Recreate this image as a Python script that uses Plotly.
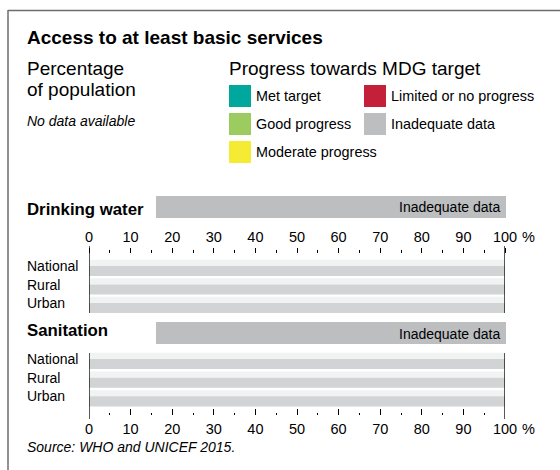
import plotly.graph_objects as go

W, H = 560, 470
FONT = "Liberation Sans, Arial, Helvetica, sans-serif"


def px(x):
    return x / W


def py(y):
    return 1 - y / H


# data
categories = ["National", "Rural", "Urban"]
track = [100, 100, 100]
water_no_data = [100, 100, 100]
sanitation_no_data = [100, 100, 100]
tick_values = [0, 10, 20, 30, 40, 50, 60, 70, 80, 90, 100]
tick_labels = ["0", "10", "20", "30", "40", "50", "60", "70", "80", "90", "100"]
minor_values = [5, 15, 25, 35, 45, 55, 65, 75, 85, 95]
progress_labels = ["Met target", "Good progress", "Moderate progress",
                   "Limited or no progress", "Inadequate data"]
water_status = "Inadequate data"
sanitation_status = "Inadequate data"

progress_colors = {
    "Met target": "#00a79d",
    "Good progress": "#9ccb5f",
    "Moderate progress": "#f6eb33",
    "Limited or no progress": "#c4203a",
    "Inadequate data": "#bcbec0",
}
TRACK_COLOR = "#f1f2f2"
NODATA_COLOR = "#d1d3d4"

fig = go.Figure()

for xa, ya, vals in [("x", "y", water_no_data), ("x2", "y2", sanitation_no_data)]:
    fig.add_trace(go.Bar(y=categories, x=track, orientation="h", width=0.33, offset=-0.44,
                         marker=dict(color=TRACK_COLOR, line=dict(width=0)),
                         xaxis=xa, yaxis=ya, hoverinfo="skip", showlegend=False))
    fig.add_trace(go.Bar(y=categories, x=vals, orientation="h", width=0.54, offset=-0.11,
                         marker=dict(color=NODATA_COLOR, line=dict(width=0)),
                         xaxis=xa, yaxis=ya, hoverinfo="skip", showlegend=False))

axis_common = dict(domain=[px(89), px(505)], range=[0, 100], anchor="free", automargin=False,
                   tickmode="array", tickvals=tick_values, ticktext=tick_labels,
                   tickwidth=1, tickcolor="black", showline=False, showgrid=False,
                   zeroline=False, fixedrange=True,
                   tickfont=dict(family=FONT, size=14.5, color="black"))

fig.update_layout(
    width=W, height=H,
    margin=dict(l=0, r=0, t=0, b=0, autoexpand=False),
    paper_bgcolor="white", plot_bgcolor="rgba(0,0,0,0)",
    barmode="overlay",
    font=dict(family=FONT, color="black"),
    xaxis=dict(**axis_common, side="top", position=py(253), ticks="outside", ticklen=5,
               minor=dict(tickmode="array", tickvals=minor_values, ticks="outside",
                          ticklen=3, tickwidth=1, tickcolor="black")),
    xaxis2=dict(**axis_common, side="bottom", position=py(415), ticks="inside", ticklen=6,
                ticklabelstandoff=3,
                minor=dict(tickmode="array", tickvals=minor_values, ticks="inside",
                           ticklen=2.5, tickwidth=1, tickcolor="black")),
    yaxis=dict(domain=[py(314.25), py(258.75)], range=[2.5, -0.5], type="category", automargin=False,
               showticklabels=False, showgrid=False, zeroline=False, anchor="x", fixedrange=True),
    yaxis2=dict(domain=[py(407.75), py(351.75)], range=[2.5, -0.5], type="category", automargin=False,
                showticklabels=False, showgrid=False, zeroline=False, anchor="x2", fixedrange=True),
)

shapes = []
ann = []


def text(x, y, s, size, bold=False, italic=False, anchor="left", color="black"):
    # annotation boxes carry ~2px of padding, compensate so glyphs land on x
    x = x - 2 if anchor == "left" else x + 2
    if bold:
        s = "<b>" + s + "</b>"
    if italic:
        s = "<i>" + s + "</i>"
    ann.append(dict(x=px(x), y=py(y), xref="paper", yref="paper", text=s, showarrow=False,
                    xanchor=anchor, yanchor="middle",
                    font=dict(family=FONT, size=size, color=color)))


# frame
shapes.append(dict(type="line", xref="paper", yref="paper", x0=px(8), x1=1, y0=py(10.5), y1=py(10.5),
                   line=dict(color="#6d6e71", width=1.5)))
shapes.append(dict(type="line", xref="paper", yref="paper", x0=px(8), x1=px(8), y0=py(10), y1=0,
                   line=dict(color="#6d6e71", width=1.5)))

# header text
text(27, 37.5, "Access to at least basic services", 19, bold=True)
text(27, 68, "Percentage", 19)
text(27, 89, "of population", 19)
text(27, 121, "No data available", 14, italic=True)
text(229, 68, "Progress towards MDG target", 19)

# legend
legend_pos = [(229, 85), (229, 113), (229, 141), (364, 85), (364, 113)]
for lab, (lx, ly) in zip(progress_labels, legend_pos):
    shapes.append(dict(type="rect", xref="paper", yref="paper", x0=px(lx), x1=px(lx + 22),
                       y0=py(ly + 22), y1=py(ly), fillcolor=progress_colors[lab], line=dict(width=0)))
    text(lx + 27, ly + 11, lab, 14.4)

# panels: title, status, banner top, title y, axes, vertical line extent
panels = [("Drinking water", water_status, 196, 209.5, "x", "y", 246, 313),
          ("Sanitation", sanitation_status, 322, 330.5, "x2", "y2", 353, 419)]
for name, status, top, ty, xa, ya, l0, l1 in panels:
    text(27, ty, name, 16.8, bold=True)
    shapes.append(dict(type="rect", xref="paper", yref="paper", x0=px(156), x1=px(506),
                       y0=py(top + 22), y1=py(top), fillcolor=progress_colors[status], line=dict(width=0)))
    text(500, top + 11.5, status, 14, anchor="right")
    for xv in (tick_values[0], tick_values[-1]):
        shapes.append(dict(type="line", xref=xa, yref="paper", x0=xv, x1=xv, y0=py(l0), y1=py(l1),
                           line=dict(color="black", width=1.3)))
    for c in categories:
        ann.append(dict(x=px(25), y=c, xref="paper", yref=ya, text=c, showarrow=False,
                        xanchor="left", yanchor="middle", yshift=2,
                        font=dict(family=FONT, size=14, color="black")))

# percent sign next to 100
ann.append(dict(x=100, y=py(237), xref="x", yref="paper", text="%", showarrow=False,
                xanchor="left", yanchor="middle", xshift=15, font=dict(family=FONT, size=14.5)))
ann.append(dict(x=100, y=py(429), xref="x2", yref="paper", text="%", showarrow=False,
                xanchor="left", yanchor="middle", xshift=15, font=dict(family=FONT, size=14.5)))

text(27, 447, "Source: WHO and UNICEF 2015.", 14, italic=True)

fig.update_layout(shapes=shapes, annotations=ann)
# drop the default page margin / scrollbars so the figure fills the window exactly
fig.write_html("out.html", config={"displayModeBar": False},
               post_script="document.documentElement.style.overflow='hidden';"
                           "document.body.style.margin='0';document.body.style.overflow='hidden';")
